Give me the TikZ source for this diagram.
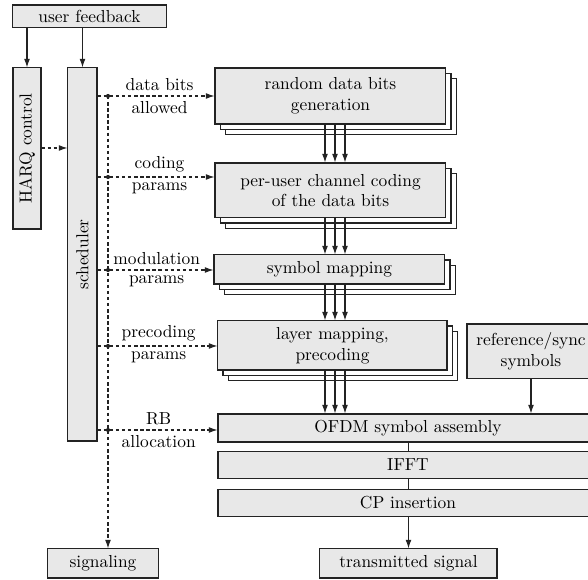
\documentclass[tikz,border=0pt]{standalone}
\usetikzlibrary{arrows.meta,shadows}
\definecolor{boxfill}{RGB}{232,232,232}
\definecolor{ln}{RGB}{35,35,35}
\begin{document}
\begin{tikzpicture}[x=0.575pt,y=-0.575pt,
  box/.style={draw=ln,fill=boxfill,line width=0.6pt,inner sep=0pt,align=center},
  stack/.style={box,double copy shadow={shadow xshift=2.9pt,shadow yshift=-2.9pt,fill=white,draw=ln,line width=0.6pt}},
  arr/.style={draw=ln,line width=0.6pt,-{Latex[length=5pt,width=3.4pt]}},
  dsh/.style={arr,dash pattern=on 2pt off 1.5pt},
  lnk/.style={draw=ln,line width=0.6pt},
  lbl/.style={inner sep=2.8pt}]
\useasboundingbox (0,0) rectangle (588,580);
\clip (0,0) rectangle (588,580);
% boxes
\node[box,minimum width=88pt,minimum height=13.2pt] (uf) at (89.5,16.5) {user feedback};
\node[box,minimum width=16.1pt,minimum height=92.6pt] (harq) at (27,148.5) {\rotatebox{90}{HARQ control}};
\node[box,minimum width=16.7pt,minimum height=214.5pt] (sched) at (82.5,254.5) {\rotatebox{90}{scheduler}};
\node[stack,minimum width=132.8pt,minimum height=32.2pt] (rnd) at (330.5,96) {random data bits\\generation};
\node[stack,minimum width=132.8pt,minimum height=31.6pt] (cod) at (330.5,190.5) {per-user channel coding\\of the data bits};
\node[stack,minimum width=132.8pt,minimum height=16.7pt] (sym) at (329.5,269.5) {symbol mapping};
\node[stack,minimum width=131.7pt,minimum height=28.2pt] (lay) at (332.5,345.5) {layer mapping,\\precoding};
\node[box,minimum width=73.6pt,minimum height=31.6pt] (ref) at (531,351.5) {reference/sync\\symbols};
\node[box,minimum width=218.5pt,minimum height=16.1pt] (ofdm) at (408,428) {OFDM symbol assembly};
\node[box,minimum width=218.5pt,minimum height=15pt] (ifft) at (408,465) {IFFT};
\node[box,minimum width=218.5pt,minimum height=15pt] (cp) at (408,503) {CP insertion};
\node[box,minimum width=63.3pt,minimum height=16.7pt] (sig) at (103,563.5) {signaling};
\node[box,minimum width=101.8pt,minimum height=16.7pt] (tx) at (408.5,563.5) {transmitted signal};
% helper coordinates
\coordinate (d1) at (108,96);
\coordinate (d2) at (108,177);
\coordinate (d3) at (108,270);
\coordinate (d4) at (108,346);
\coordinate (d5) at (108,430);
\coordinate (h) at (0,148);
\coordinate (a1) at (325,0);
\coordinate (a2) at (335,0);
\coordinate (a3) at (345,0);
% feedback arrows
\draw[arr] (uf.south -| harq) -- (harq.north);
\draw[arr] (uf.south -| sched) -- (sched.north);
\draw[dsh] (harq.east |- h) -- (sched.west |- h);
% control arrows
\draw[dsh] (sched.east |- d1) -- (rnd.west |- d1)
  node[lbl,pos=0.53,above] {data bits} node[lbl,pos=0.53,below] {allowed};
\draw[dsh] (sched.east |- d2) -- (cod.west |- d2)
  node[lbl,pos=0.53,above] {coding} node[lbl,pos=0.53,below] {params};
\draw[dsh] (sched.east |- d3) -- (sym.west |- d3)
  node[lbl,pos=0.51,above] {modulation} node[lbl,pos=0.51,below] {params};
\draw[dsh] (sched.east |- d4) -- (lay.west |- d4)
  node[lbl,pos=0.51,above] {precoding} node[lbl,pos=0.51,below] {params};
\draw[dsh] (sched.east |- d5) -- (ofdm.west |- d5)
  node[lbl,pos=0.51,above] {RB} node[lbl,pos=0.51,below] {allocation};
\draw[dsh] (d1) -- (sig.north -| d1);
\foreach \d in {d1,d2,d3,d4,d5} \fill[ln] (\d) circle (1.2pt);
% data chain
\foreach \a in {a1,a2,a3} {
  \draw[arr] (rnd.south -| \a) -- (cod.north -| \a);
  \draw[arr] (cod.south -| \a) -- (sym.north -| \a);
  \draw[arr] (sym.south -| \a) -- (lay.north -| \a);
  \draw[arr] (lay.south -| \a) -- (ofdm.north -| \a);
}
\draw[arr] (ref.south) -- (ofdm.north -| ref.south);
\draw[lnk] (ofdm.south -| tx) -- (ifft.north -| tx);
\draw[lnk] (ifft.south -| tx) -- (cp.north -| tx);
\draw[arr] (cp.south -| tx) -- (tx.north);
\end{tikzpicture}
\end{document}
